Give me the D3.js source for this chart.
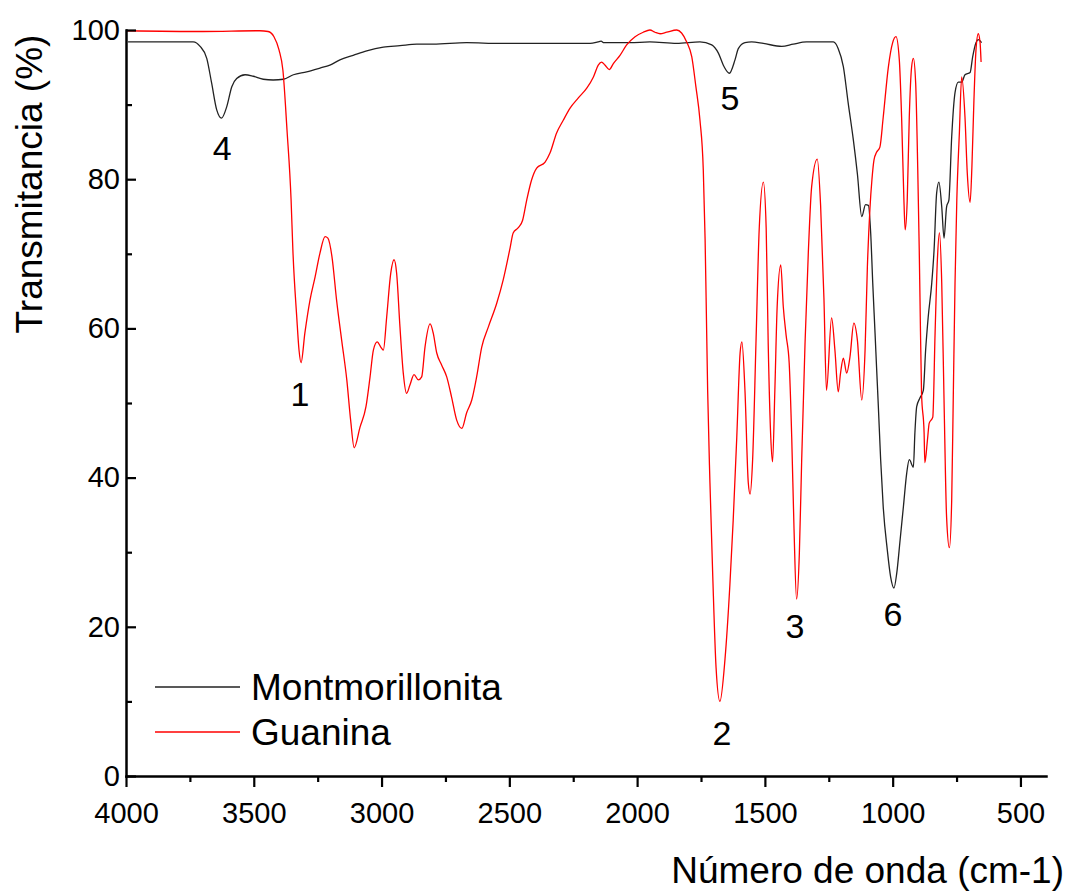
<!DOCTYPE html>
<html><head><meta charset="utf-8">
<script src="https://cdn.jsdelivr.net/npm/d3@7/dist/d3.min.js"></script>
<style>body{margin:0;background:#fff}</style>
</head><body>
<svg id="chart" width="1070" height="893"></svg>
<script>
// ---- data ----
const xTickValues = [4000, 3500, 3000, 2500, 2000, 1500, 1000, 500];
const xMinorTicks = [3750, 3250, 2750, 2250, 1750, 1250, 750];
const yTickValues = [0, 20, 40, 60, 80, 100];
const yMinorTicks = [10, 30, 50, 70, 90];
const seriesNames = ["Montmorillonita", "Guanina"];
const seriesColors = ["#222222", "#ff0000"];
const xTitle = "Número de onda (cm-1)";
const yTitle = "Transmitancia (%)";

// [wavenumber cm-1, transmittance %]
const montmorillonita = [
 [3992,98.4],[3737,98.4],[3710,97.8],[3684,96.2],[3665,92.9],[3645,89.3],[3626,88.2],[3606,89.7],
 [3586,92.4],[3567,93.5],[3534,94.0],[3502,93.8],[3463,93.4],[3424,93.3],[3384,93.4],[3345,94.0],
 [3293,94.4],[3241,94.9],[3202,95.3],[3163,96.0],[3111,96.6],[3058,97.2],[2993,97.7],[2928,97.9],
 [2862,98.1],[2798,98.1],[2667,98.3],[2537,98.2],[2341,98.2],[2184,98.2],[2153,98.4],[2141,98.5],
 [2130,98.3],[2028,98.3],[1950,98.4],[1845,98.2],[1754,98.4],[1708,98.0],[1682,96.9],[1660,95.1],
 [1639,94.2],[1617,96.0],[1604,97.5],[1578,98.3],[1552,98.4],[1506,98.2],[1434,97.8],[1389,98.1],
 [1337,98.4],[1232,98.4],[1213,97.5],[1193,95.1],[1174,90.2],[1154,85.3],[1138,80.7],[1121,75.0],
 [1106,76.6],[1095,76.5],[1086,72.8],[1078,66.1],[1069,59.4],[1063,54.8],[1056,49.5],[1047,42.4],
 [1037,36.1],[1021,30.3],[1008,26.7],[995,25.2],[984,27.2],[971,31.6],[958,36.1],[945,40.6],
 [935,42.4],[919,41.4],[913,46.0],[906,49.5],[893,50.7],[880,51.7],[871,57.1],[861,61.5],
 [847,66.1],[838,70.5],[828,78.1],[819,79.6],[808,76.3],[799,72.1],[789,76.3],[780,77.2],
 [769,85.7],[756,91.6],[743,93.0],[730,93.0],[717,94.0],[697,94.3],[687,96.4],[674,98.3],
 [665,98.7],[652,98.3]
];

const guanina = [
 [3996,99.9],[3700,99.8],[3476,99.9],[3444,99.8],[3421,99.1],[3401,97.3],[3386,94.6],[3370,86.6],
 [3354,77.2],[3347,70.5],[3332,61.6],[3323,57.1],[3315,55.4],[3300,59.4],[3280,63.8],[3260,66.9],
 [3241,70.1],[3221,72.3],[3210,72.1],[3194,69.6],[3176,63.8],[3156,58.4],[3136,53.1],[3121,47.7],
 [3107,44.0],[3084,46.8],[3061,49.5],[3045,53.5],[3032,57.1],[3017,58.2],[3003,57.5],[2993,57.1],
 [2980,61.5],[2964,67.4],[2951,69.2],[2941,67.4],[2928,60.2],[2915,54.0],[2902,51.3],[2889,52.4],
 [2873,53.8],[2856,53.1],[2843,53.5],[2830,57.5],[2810,60.6],[2798,59.4],[2784,56.7],[2765,55.1],
 [2745,53.5],[2726,50.8],[2706,47.7],[2686,46.6],[2667,48.7],[2647,50.4],[2628,53.5],[2608,57.5],
 [2582,60.2],[2549,63.4],[2524,66.5],[2497,70.8],[2485,72.8],[2465,73.5],[2448,74.5],[2432,77.2],
 [2413,79.9],[2393,81.5],[2360,82.3],[2341,83.5],[2315,86.2],[2289,87.9],[2263,89.5],[2230,90.9],
 [2197,92.2],[2171,93.7],[2152,95.3],[2139,95.7],[2126,95.3],[2109,94.7],[2093,95.5],[2067,96.6],
 [2041,98.0],[2008,99.1],[1976,99.7],[1950,100.0],[1930,99.7],[1910,99.5],[1884,99.7],[1845,100.0],
 [1826,99.6],[1806,98.4],[1786,96.4],[1770,92.4],[1754,87.9],[1741,81.2],[1734,72.0],[1730,64.1],
 [1724,51.7],[1715,39.3],[1704,26.8],[1691,14.5],[1676,10.0],[1656,15.7],[1637,25.6],[1624,34.3],
 [1610,45.4],[1597,56.7],[1590,58.2],[1578,51.7],[1565,39.3],[1558,37.8],[1548,42.4],[1535,57.9],
 [1522,73.5],[1506,79.6],[1495,73.5],[1487,57.9],[1477,45.4],[1470,42.1],[1461,51.7],[1452,62.9],
 [1438,68.5],[1428,62.9],[1417,59.1],[1405,55.4],[1395,45.4],[1386,33.1],[1376,23.7],[1365,30.0],
 [1356,42.4],[1343,57.9],[1330,70.2],[1317,79.0],[1295,82.7],[1282,76.5],[1269,64.1],[1259,51.7],
 [1239,61.4],[1226,57.1],[1213,51.5],[1204,54.0],[1193,56.0],[1180,54.0],[1167,56.2],[1152,60.7],
 [1138,58.4],[1121,50.4],[1108,57.1],[1099,68.2],[1089,76.0],[1081,80.0],[1073,82.6],[1063,83.6],
 [1050,84.3],[1037,88.3],[1017,95.0],[1000,98.3],[987,99.1],[974,96.0],[965,88.3],[956,77.2],
 [951,73.2],[943,77.2],[935,88.3],[926,95.0],[919,96.2],[910,92.9],[902,81.6],[896,70.5],
 [893,63.8],[887,51.3],[877,46.0],[874,42.0],[864,45.0],[857,47.3],[843,48.1],[834,59.4],
 [825,69.2],[817,72.8],[808,66.1],[799,50.4],[789,34.7],[778,30.6],[769,37.0],[763,50.4],
 [756,66.1],[749,77.2],[739,86.2],[730,93.7],[717,88.3],[708,80.8],[697,76.9],[690,81.6],
 [682,90.6],[674,97.3],[665,99.5],[658,98.3],[654,95.7]
];

const peakLabels = ["4", "1", "5", "2", "3", "6"];
const peakLabelPos = [[3624,84.2],[3319,51.3],[1637,90.9],[1668,5.8],[1382,20.2],[999,21.8]];

// ---- chart ----
const svg = d3.select("#chart");
const font = "'Liberation Sans', Arial, Helvetica, sans-serif";
const x = d3.scaleLinear().domain([4000, 400]).range([126, 1046]);
const y = d3.scaleLinear().domain([0, 100]).range([776, 30]);

const line = d3.line().x(d => x(d[0])).y(d => y(d[1])).curve(d3.curveMonotoneX);

[montmorillonita, guanina].forEach((s, i) => {
  svg.append("path").datum(s)
    .attr("fill", "none")
    .attr("stroke", seriesColors[i])
    .attr("stroke-width", 1.3)
    .attr("stroke-linejoin", "round")
    .attr("d", line);
});

// minor ticks (separate groups, no domain)
const gxm = svg.append("g").attr("transform", `translate(0,${y(0)})`);
gxm.call(d3.axisBottom(x).tickValues(xMinorTicks).tickFormat("").tickSize(6).tickSizeOuter(0));
gxm.select(".domain").remove();
const gym = svg.append("g").attr("transform", `translate(${x(4000)},0)`);
gym.call(d3.axisLeft(y).tickValues(yMinorTicks).tickFormat("").tickSize(-6).tickSizeOuter(0));
gym.select(".domain").remove();

// major axes
const gx = svg.append("g").attr("transform", `translate(0,${y(0)})`);
gx.call(d3.axisBottom(x).tickValues(xTickValues).tickFormat(d3.format("d"))
  .tickSize(11).tickSizeOuter(0).tickPadding(15));
const gy = svg.append("g").attr("transform", `translate(${x(4000)},0)`);
gy.call(d3.axisLeft(y).tickValues(yTickValues).tickFormat(d3.format("d"))
  .tickSize(-10).tickSizeOuter(0).tickPadding(6));

svg.selectAll(".domain").attr("stroke", "#000").attr("stroke-width", 2.5).attr("stroke-linecap", "square");
svg.selectAll(".tick line").attr("stroke", "#000").attr("stroke-width", 2.2);
svg.selectAll(".tick text").attr("fill", "#000").style("font-family", font).style("font-size", "29px");

// axis titles
svg.append("text").attr("x", 1064).attr("y", 883).attr("text-anchor", "end")
  .style("font-family", font).style("font-size", "37px").text(xTitle);
svg.append("text").attr("transform", "translate(42,184) rotate(-90)").attr("text-anchor", "middle")
  .style("font-family", font).style("font-size", "37px").text(yTitle);

// peak labels
svg.selectAll(".peak").data(peakLabels).enter().append("text")
  .attr("x", (d, i) => x(peakLabelPos[i][0]))
  .attr("y", (d, i) => y(peakLabelPos[i][1]))
  .attr("text-anchor", "middle").attr("dy", "0.36em")
  .style("font-family", font).style("font-size", "34px").text(d => d);

// legend
const leg = svg.append("g");
seriesNames.forEach((n, i) => {
  const ly = 687 + i * 45;
  leg.append("line").attr("x1", 155).attr("x2", 240).attr("y1", ly).attr("y2", ly)
    .attr("stroke", seriesColors[i]).attr("stroke-width", 1.3);
  leg.append("text").attr("x", 251).attr("y", ly + 13)
    .style("font-family", font).style("font-size", "37px").text(n);
});
</script>
</body></html>
